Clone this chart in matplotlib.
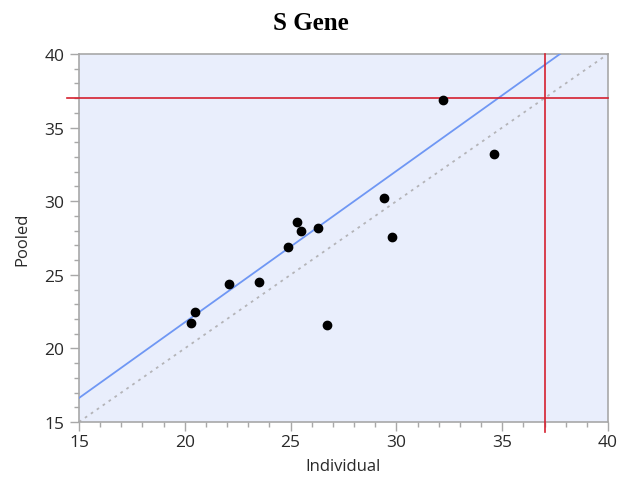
import numpy as np
import matplotlib.pyplot as plt
from matplotlib.ticker import MultipleLocator

# Individual vs pooled Ct values, S gene
individual = [20.3, 20.5, 22.1, 23.5, 24.9, 25.3, 25.5, 26.3, 26.7, 29.4, 29.8, 32.2, 34.6]
pooled = [21.7, 22.5, 24.4, 24.5, 26.9, 28.6, 28.0, 28.2, 21.6, 30.2, 27.6, 36.9, 33.2]

fit_x = [15, 37.73]
fit_y = [16.63, 40.0]
cutoff = 37
axis_range = [15, 40]

plt.rcParams['font.family'] = ['Open Sans', 'DejaVu Sans']

fig = plt.figure(figsize=(6.22, 4.81), dpi=100)
ax = fig.add_axes([0.127, 0.1206, 0.8505, 0.7651])
ax.set_facecolor('#E9EEFC')

# identity line
ax.plot(axis_range, axis_range, color='#B4B4B8', lw=1.3, ls=(0, (1.5, 2.5)), zorder=2)
# fit line
ax.plot(fit_x, fit_y, color='#6F97F4', lw=1.3, zorder=3)
# cutoff lines, run out past the frame like a tick
ax.axhline(cutoff, xmin=-0.023, xmax=1, color='#D5202F', lw=1.2, clip_on=False, zorder=4)
ax.axvline(cutoff, ymin=-0.027, ymax=1, color='#D5202F', lw=1.2, clip_on=False, zorder=4)

ax.scatter(individual, pooled, s=36, color='black', zorder=5)

ax.set_xlim(axis_range)
ax.set_ylim(axis_range)
ax.xaxis.set_major_locator(MultipleLocator(5))
ax.yaxis.set_major_locator(MultipleLocator(5))
ax.xaxis.set_minor_locator(MultipleLocator(1))
ax.yaxis.set_minor_locator(MultipleLocator(1))
ax.tick_params(which='major', length=6.5, width=1, color='#A8A8A8',
               labelsize=12.5, labelcolor='#2A2A2A', pad=2)
ax.tick_params(axis='y', which='major', pad=4)
ax.tick_params(which='minor', length=3.5, width=1, color='#A8A8A8')
for s in ax.spines.values():
    s.set_color('#A8A8A8')
    s.set_linewidth(1.2)

ax.set_xlabel('Individual', fontsize=12, color='#2A2A2A', labelpad=6)
ax.set_ylabel('Pooled', fontsize=12, color='#2A2A2A', labelpad=10)
fig.text(0.5, 0.952, 'S Gene', ha='center', va='center', fontsize=18,
         fontweight='bold', family='Liberation Serif')

fig.savefig('out.png', dpi=100)
